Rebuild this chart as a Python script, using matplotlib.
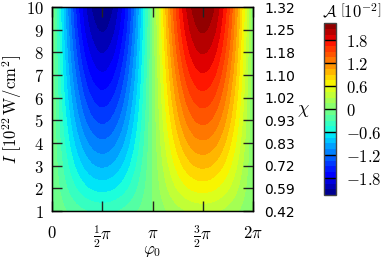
"""Asymmetry map A(phi0, I) with chi axis and stepped jet colour bar."""

import matplotlib

matplotlib.use("Agg")
import matplotlib.pyplot as plt  # noqa: E402
import numpy as np  # noqa: E402

plt.rcParams["mathtext.fontset"] = "cm"

# intensity grid [1e22 W/cm^2] and peak |A| [1e-2] read along phi0 = pi/2
intensity = [1, 2, 3, 4, 5, 6, 7, 8, 9, 10]
amplitude = [0.34, 0.66, 0.93, 1.17, 1.39, 1.59, 1.78, 1.96, 2.12, 2.24]

chi_labels = ["0.42", "0.59", "0.72", "0.83", "0.93",
              "1.02", "1.10", "1.18", "1.25", "1.32"]
phi_ticks = [0, 0.5 * np.pi, np.pi, 1.5 * np.pi, 2 * np.pi]
phi_labels = [r"$0$", r"$\frac{1}{2}\pi$", r"$\pi$", r"$\frac{3}{2}\pi$", r"$2\pi$"]
cbar_ticks = [-1.8, -1.2, -0.6, 0, 0.6, 1.2, 1.8]
levels = np.linspace(-2.25, 2.25, 31)

phi = np.linspace(0, 2 * np.pi, 721)
field = -np.outer(amplitude, np.sin(phi))

fig = plt.figure(figsize=(3.83, 2.59), dpi=100)
ax = fig.add_axes([0.1358, 0.1853, 0.5248, 0.7876])
cf = ax.contourf(phi, intensity, field, levels=levels, cmap="jet")

ax.set_xlim(0, 2 * np.pi)
ax.set_ylim(1, 10)
ax.set_xticks(phi_ticks, phi_labels, fontsize=12)
ax.set_yticks(intensity, [f"${v}$" for v in intensity], fontsize=12)
ax.tick_params(direction="in", length=7, width=1, color="#222222",
               top=True, right=False, pad=6)
ax.tick_params(axis="x", pad=9)
ax.set_xlabel(r"$\varphi_0$", fontsize=12, va="center")
ax.xaxis.set_label_coords(0.5, -0.19)
ax.set_ylabel(r"$I\ \left[10^{22}\,\mathrm{W/cm^2}\right]$", fontsize=12, va="center")
ax.yaxis.set_label_coords(-0.2, 0.5)
for s in ax.spines.values():
    s.set_linewidth(1.0)

ax2 = ax.twinx()
ax2.set_ylim(1, 10)
ax2.set_yticks(intensity, chi_labels, fontsize=10)
ax2.tick_params(direction="in", length=7, width=1, color="#222222", pad=8)
ax2.set_ylabel(r"$\chi$", fontsize=13, rotation=0, va="center", ha="center")
ax2.yaxis.set_label_coords(1.25, 0.495)

cax = fig.add_axes([0.846, 0.247, 0.0313, 0.664])
cb = fig.colorbar(cf, cax=cax, ticks=cbar_ticks)
cb.ax.set_yticklabels([f"${t:g}$" for t in cbar_ticks], fontsize=12)
cb.ax.tick_params(length=0, pad=7)
for t in cbar_ticks:
    cax.axhline(t, color="k", lw=1)
cb.outline.set_linewidth(1.0)
cb.outline.set_edgecolor("#444444")
fig.text(0.840, 0.955, r"$\mathcal{A}\ \left[10^{-2}\right]$", fontsize=12,
         ha="left", va="center")

fig.savefig("out.png", dpi=100)
plt.close(fig)
